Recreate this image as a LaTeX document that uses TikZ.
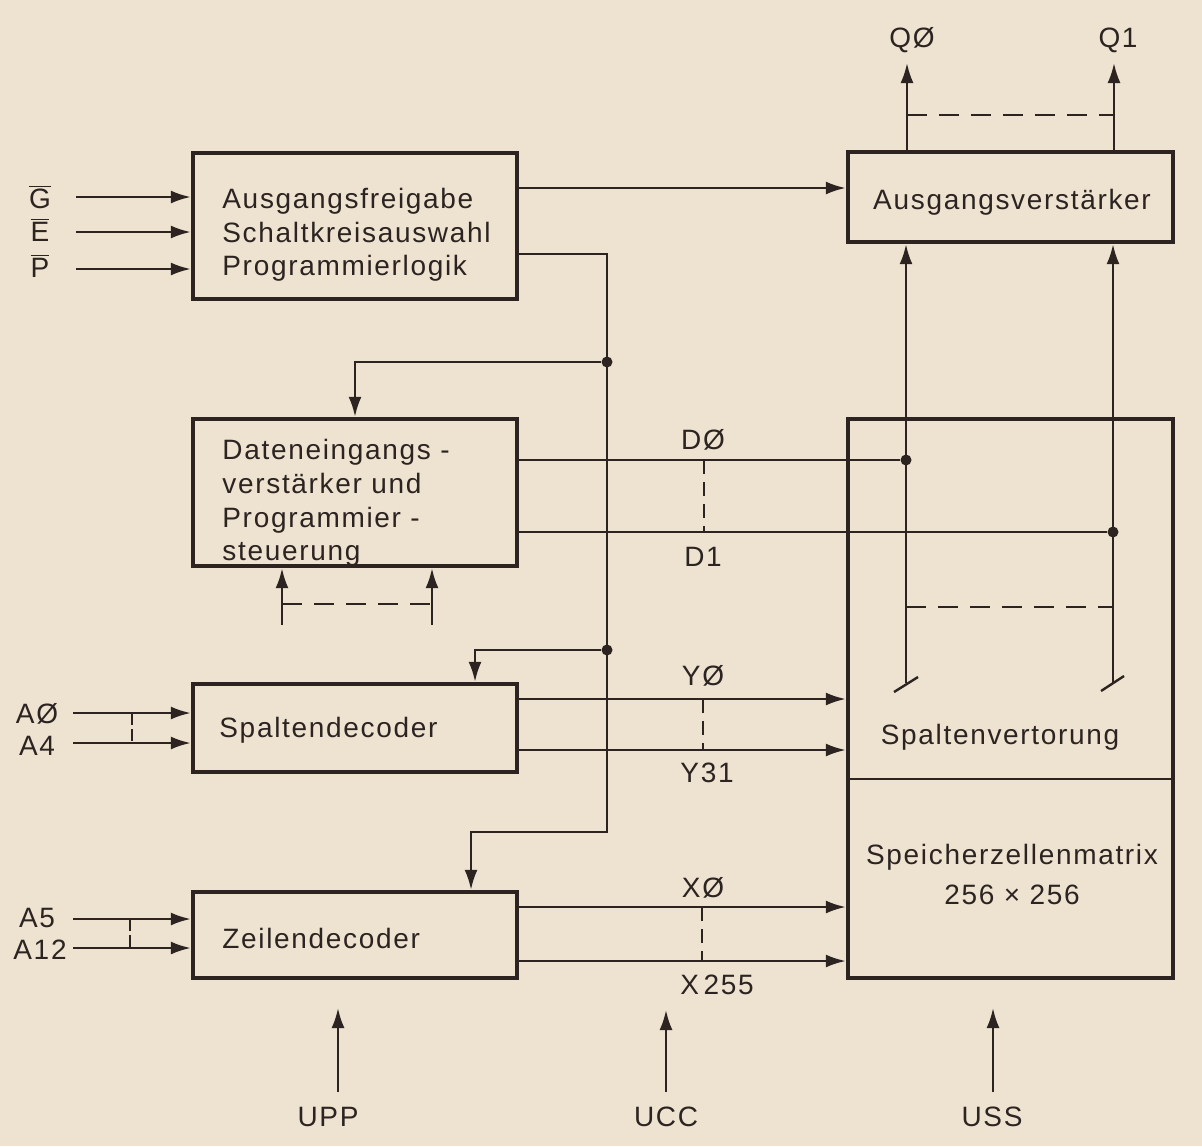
\documentclass[tikz,border=0pt]{standalone}
\usepackage{fontspec}
\setmainfont[LetterSpace=6]{Liberation Sans}
\usetikzlibrary{arrows.meta}
\definecolor{paper}{RGB}{237,227,208}
\definecolor{ink}{RGB}{45,36,34}
\begin{document}
\begin{tikzpicture}[x=0.5pt,y=-0.5pt,
  every node/.style={text=ink,font=\fontsize{14}{16.5}\selectfont},
  box/.style={draw=ink,line width=2.2pt,rectangle,inner sep=0pt},
  wire/.style={draw=ink,line width=1.2pt},
  arr/.style={wire,-{Latex[length=10pt,width=6.5pt]}},
  dsh/.style={wire,dash pattern=on 10pt off 6pt},
  vdsh/.style={wire,dash pattern=on 7pt off 4pt},
  dot/.style={circle,fill=ink,inner sep=0pt,minimum size=5.5pt},
  lbl/.style={inner sep=0pt}]
\fill[paper] (0,0) rectangle (1202,1146);
\useasboundingbox (0,0) rectangle (1202,1146);

% boxes
\node[box,minimum width=162pt,minimum height=73pt] (A) at (355,226) {};
\node[lbl,anchor=west,align=left,font=\fontsize{14}{16.8}\selectfont] (Atxt) at (222,235) {Ausgangsfreigabe\\Schaltkreisauswahl\\Programmierlogik};
\node[box,minimum width=162.5pt,minimum height=45pt] (B) at (1010.5,197) {};
\node[lbl] (Btxt) at (1012,202) {Ausgangsverstärker};
\node[box,minimum width=162.5pt,minimum height=279.5pt] (C) at (1010.5,698.5) {};
\node[box,minimum width=162pt,minimum height=73.5pt] (D) at (355,492.5) {};
\node[lbl,anchor=west,align=left,font=\fontsize{14}{16.8}\selectfont] (Dtxt) at (222,503) {Dateneingangs -\\verstärker und\\Programmier -\\steuerung};
\node[box,minimum width=162pt,minimum height=44pt] (E) at (355,728) {};
\node[lbl,anchor=west] (Etxt) at (219,730) {Spaltendecoder};
\node[box,minimum width=162pt,minimum height=43pt] (F) at (355,935) {};
\node[lbl,anchor=west] (Ftxt) at (222,938) {Zeilendecoder};

% inside C
\draw[wire] (C.west |- 0,779) -- (C.east |- 0,779);
\node[lbl] (Sv) at (1000,737) {Spaltenvertorung};
\node[lbl] (Sm) at (1012,857) {Speicherzellenmatrix};
\node[lbl] (Sn) at (1012,895) {256 × 256};

% G E P inputs
\node[lbl] (lG) at (40,197) {$\overline{\mbox{G}}$};
\node[lbl] (lE) at (40,230) {$\overline{\mbox{E}}$};
\node[lbl] (lP) at (40,266) {$\overline{\mbox{P}}$};
\coordinate (g0) at (76,197);
\coordinate (e0) at (76,232);
\coordinate (p0) at (76,269);
\draw[arr] (g0) -- (A.west |- g0);
\draw[arr] (e0) -- (A.west |- e0);
\draw[arr] (p0) -- (A.west |- p0);

% A -> B
\draw[arr] (A.east |- 0,188) -- (B.west |- 0,188);

% Q outputs
\coordinate (q0) at (907,63);
\coordinate (q1) at (1114,63);
\draw[arr] (B.north -| q0) -- (q0);
\draw[arr] (B.north -| q1) -- (q1);
\node[lbl] (lQ0) at (912,40) {QØ};
\node[lbl] (lQ1) at (1118,40) {Q1};
\draw[dsh] (907,115) -- (1114,115);

% column lines up into B
\coordinate (tl) at (906,683);
\coordinate (tr) at (1113,683);
\draw[arr] (tl) -- (B.south -| tl);
\draw[arr] (tr) -- (B.south -| tr);
\draw[wire] (894,692) -- (918,677);
\draw[wire] (1101,691) -- (1124,676);
\draw[dsh] (906,607) -- (1113,607);

% data lines
\node[dot] (jl) at (906,460) {};
\node[dot] (jr) at (1113,532) {};
\draw[wire] (D.east |- jl) -- (jl);
\draw[wire] (D.east |- jr) -- (jr);
\draw[vdsh] (704,460) -- (704,532);
\node[lbl] (lD0) at (703,440) {DØ};
\node[lbl] (lD1) at (703,557) {D1};

% arrows under D
\coordinate (d1) at (282,625);
\coordinate (d2) at (432,625);
\draw[arr] (d1) -- (D.south -| d1);
\draw[arr] (d2) -- (D.south -| d2);
\draw[dsh] (282,604) -- (432,604);

% control bus
\coordinate (b1) at (607,254);
\coordinate (b2) at (607,832);
\node[dot] (j1) at (607,362) {};
\node[dot] (j2) at (607,650) {};
\draw[arr] (A.east |- b1) -- (b1) -- (b2) -| (F.north -| 471,0);
\draw[arr] (j1) -| (D.north -| 355,0);
\draw[arr] (j2) -| (E.north -| 475,0);

% Y lines
\draw[arr] (E.east |- 0,699) -- (C.west |- 0,699);
\draw[arr] (E.east |- 0,750) -- (C.west |- 0,750);
\draw[vdsh] (703,699) -- (703,750);
\node[lbl] (lY0) at (703,676) {YØ};
\node[lbl] (lY31) at (707,773) {Y31};

% X lines
\draw[arr] (F.east |- 0,907) -- (C.west |- 0,907);
\draw[arr] (F.east |- 0,961) -- (C.west |- 0,961);
\draw[vdsh] (702,907) -- (702,961);
\node[lbl] (lX0) at (703,888) {XØ};
\node[lbl] (lX255) at (717,985) {X\,255};

% address inputs
\node[lbl] (lA0) at (37,714) {AØ};
\node[lbl] (lA4) at (37,746) {A4};
\node[lbl] (lA5) at (37,918) {A5};
\node[lbl] (lA12) at (40,950) {A12};
\coordinate (a0) at (73,713);
\coordinate (a4) at (73,743);
\coordinate (a5) at (73,919);
\coordinate (a12) at (73,948);
\draw[arr] (a0) -- (E.west |- a0);
\draw[arr] (a4) -- (E.west |- a4);
\draw[arr] (a5) -- (F.west |- a5);
\draw[arr] (a12) -- (F.west |- a12);
\draw[wire,dash pattern=on 6pt off 2pt] (132,713) -- (132,743);
\draw[wire,dash pattern=on 6pt off 2pt] (130,919) -- (130,948);

% supply inputs
\coordinate (upp) at (338,1092);
\coordinate (ucc) at (666,1092);
\coordinate (uss) at (993,1092);
\draw[arr] (upp) -- (338,1008);
\draw[arr] (ucc) -- (666,1010);
\draw[arr] (uss) -- (993,1008);
\node[lbl] (lUPP) at (328,1117) {UPP};
\node[lbl] (lUCC) at (666,1117) {UCC};
\node[lbl] (lUSS) at (992,1117) {USS};
\end{tikzpicture}
\end{document}
